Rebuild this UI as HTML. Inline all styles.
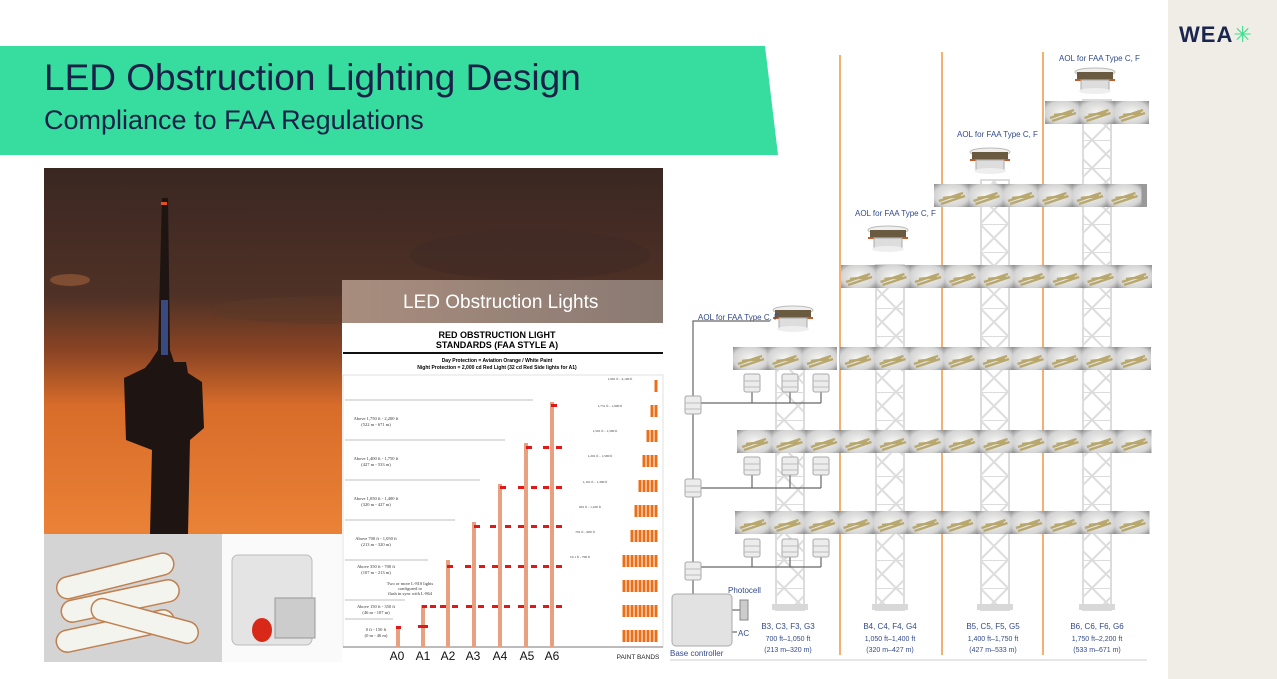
<!DOCTYPE html>
<html><head><meta charset="utf-8"><style>
html,body{margin:0;padding:0}
body{width:1277px;height:679px;position:relative;overflow:hidden;background:#fff;font-family:"Liberation Sans",sans-serif}
.abs{position:absolute}
</style></head><body>
<div class="abs" style="left:1168px;top:0;width:109px;height:679px;background:#f0ece6"></div>
<div class="abs" style="left:1179px;top:22px;font-size:22px;font-weight:bold;color:#1a2550;letter-spacing:1px">WEA<span style="color:#3ee08f;font-weight:normal">✳</span></div>

<svg class="abs" style="left:0;top:0" width="1277" height="679">
<defs>
<linearGradient id="sky" x1="0" y1="0" x2="0" y2="1">
<stop offset="0" stop-color="#3a2722"/><stop offset="0.35" stop-color="#4f3126"/><stop offset="0.5" stop-color="#8a4424"/><stop offset="0.65" stop-color="#d86c2a"/><stop offset="1" stop-color="#ea8236"/></linearGradient>
<linearGradient id="hdr" x1="0" y1="0" x2="1" y2="0"><stop offset="0" stop-color="#a88d7e"/><stop offset="1" stop-color="#8a7a72"/></linearGradient>
<radialGradient id="tileg" cx="0.5" cy="0.5" r="0.7"><stop offset="0" stop-color="#f6f6f4"/><stop offset="0.7" stop-color="#d4d4d4"/><stop offset="1" stop-color="#8c8c8c"/></radialGradient>
<symbol id="t" viewBox="0 0 35 23" width="35" height="23">
<rect width="35" height="23" fill="url(#tileg)"/>
<path d="M5 17 L29 9 M7 20 L31 12 M9 14 L27 12" stroke="#b9a86e" stroke-width="2.4"/>
</symbol>
<pattern id="tile" width="35" height="23" patternUnits="userSpaceOnUse">
<use href="#t"/>
</pattern>
<pattern id="lat" width="28" height="28" patternUnits="userSpaceOnUse">
<path d="M0 0 L28 28 M28 0 L0 28 M0 0 H28" stroke="#dcdcdc" stroke-width="2" fill="none"/></pattern>
<g id="box"><rect x="-8" y="-9" width="16" height="18" rx="2" fill="#ececec" stroke="#aaa"/><line x1="-8" y1="-2" x2="8" y2="-2" stroke="#bbb"/><line x1="-8" y1="4" x2="8" y2="4" stroke="#bbb"/></g>
<g id="aol"><ellipse cx="0" cy="-8" rx="20" ry="4" fill="#eee" stroke="#bbb"/><rect x="-18" y="-8" width="36" height="8" fill="#6a5a40"/><line x1="-20" y1="0" x2="20" y2="0" stroke="#c55a2a" stroke-width="2"/><rect x="-14" y="0" width="28" height="10" fill="#ddd" stroke="#aaa"/><ellipse cx="0" cy="11" rx="16" ry="3" fill="#eee"/></g>
</defs>

<polygon points="0,46 765,46 778,155 0,155" fill="#36dd9e"/>
<text x="44" y="90" font-size="37" fill="#1a2048">LED Obstruction Lighting Design</text>
<text x="44" y="129" font-size="27" fill="#1a2048">Compliance to FAA Regulations</text>

<rect x="44" y="168" width="619" height="366" fill="url(#sky)"/>
<ellipse cx="70" cy="280" rx="20" ry="6" fill="#a0603a" opacity=".6"/>
<ellipse cx="330" cy="310" rx="120" ry="14" fill="#5a3828" opacity=".5"/>
<ellipse cx="530" cy="255" rx="120" ry="25" fill="#3e2a24" opacity=".5"/>
<polygon points="162,198 168,198 170,350 174,362 186,362 188,373 202,382 204,428 190,440 188,534 150,534 152,450 126,440 124,378 145,368 150,362 158,350" fill="#1e1512"/>
<rect x="161" y="300" width="7" height="55" fill="#3a4a80"/>
<rect x="161" y="202" width="6" height="3" fill="#e05020"/>
<rect x="44" y="534" width="178" height="128" fill="#d4d4d4"/>
<g fill="#f4f4ee" stroke="#c08050" stroke-width="1.5">
<rect x="55" y="620" width="120" height="22" rx="11" transform="rotate(-12 115 630)"/>
<rect x="60" y="590" width="120" height="22" rx="11" transform="rotate(-12 120 600)"/>
<rect x="90" y="610" width="110" height="22" rx="11" transform="rotate(15 145 620)"/>
<rect x="55" y="565" width="120" height="22" rx="11" transform="rotate(-14 115 575)"/>
</g>
<rect x="222" y="534" width="120" height="128" fill="#fafafa"/>
<rect x="232" y="555" width="80" height="90" rx="6" fill="#e4e4e4" stroke="#bbb"/>
<rect x="275" y="598" width="40" height="40" fill="#ccc" stroke="#999"/>
<ellipse cx="262" cy="630" rx="10" ry="12" fill="#d82818"/>

<rect x="342" y="280" width="321" height="382" fill="#fff"/>
<rect x="342" y="280" width="321" height="43" fill="url(#hdr)"/>
<text x="403" y="308" font-size="19" fill="#fff">LED Obstruction Lights</text>
<text x="497" y="338" font-size="9" font-weight="bold" text-anchor="middle">RED OBSTRUCTION LIGHT</text>
<text x="497" y="348" font-size="9" font-weight="bold" text-anchor="middle">STANDARDS (FAA STYLE A)</text>
<rect x="343" y="352" width="320" height="2" fill="#111"/>
<text x="497" y="362" font-size="5" font-weight="bold" text-anchor="middle">Day Protection = Aviation Orange / White Paint</text>
<text x="497" y="369" font-size="5" font-weight="bold" text-anchor="middle">Night Protection = 2,000 cd Red Light (32 cd Red Side lights for A1)</text>
<rect x="343" y="375" width="320" height="272" fill="none" stroke="#ccc" stroke-width=".6"/>
<g stroke="#aaa" stroke-width=".7">
<line x1="345" y1="400" x2="533" y2="400"/><line x1="345" y1="440" x2="505" y2="440"/><line x1="345" y1="480" x2="480" y2="480"/><line x1="345" y1="520" x2="455" y2="520"/><line x1="345" y1="560" x2="428" y2="560"/><line x1="345" y1="600" x2="405" y2="600"/><line x1="345" y1="619" x2="393" y2="619"/>
<line x1="343" y1="647" x2="663" y2="647" stroke="#555"/>
</g>
<g font-size="4.5" fill="#333" font-family="Liberation Serif,serif" text-anchor="middle">
<text x="376" y="420">Above 1,750 ft - 2,200 ft</text><text x="376" y="426">(522 m - 671 m)</text>
<text x="376" y="460">Above 1,400 ft - 1,750 ft</text><text x="376" y="466">(427 m - 533 m)</text>
<text x="376" y="500">Above 1,050 ft - 1,400 ft</text><text x="376" y="506">(320 m - 427 m)</text>
<text x="376" y="540">Above 700 ft - 1,050 ft</text><text x="376" y="546">(213 m - 320 m)</text>
<text x="376" y="568">Above 350 ft - 700 ft</text><text x="376" y="574">(107 m - 213 m)</text>
<text x="376" y="608">Above 150 ft - 350 ft</text><text x="376" y="614">(46 m - 107 m)</text>
<text x="376" y="631">0 ft - 150 ft</text><text x="376" y="637">(0 m - 46 m)</text>
<text x="410" y="585">Two or more L-810 lights</text><text x="410" y="590">configured to</text><text x="410" y="595">flash in sync with L-864</text>
</g>
<g fill="#e8a080">
<rect x="396" y="627" width="4" height="20"/><rect x="421" y="605" width="4" height="42"/><rect x="446" y="560" width="4" height="87"/><rect x="472" y="522" width="4" height="125"/><rect x="498" y="484" width="4" height="163"/><rect x="524" y="443" width="4" height="204"/><rect x="550" y="402" width="4" height="245"/>
</g>
<g fill="#e01818">
<rect x="396" y="626" width="5" height="3"/><rect x="418" y="625" width="10" height="3"/>
<rect x="422" y="605" width="5" height="3"/><rect x="430" y="605" width="6" height="3"/><rect x="440" y="605" width="6" height="3"/><rect x="452" y="605" width="6" height="3"/><rect x="466" y="605" width="6" height="3"/><rect x="478" y="605" width="6" height="3"/><rect x="492" y="605" width="6" height="3"/><rect x="504" y="605" width="6" height="3"/><rect x="518" y="605" width="6" height="3"/><rect x="530" y="605" width="6" height="3"/><rect x="543" y="605" width="6" height="3"/><rect x="556" y="605" width="6" height="3"/>
<rect x="447" y="565" width="6" height="3"/><rect x="465" y="565" width="6" height="3"/><rect x="479" y="565" width="6" height="3"/><rect x="492" y="565" width="6" height="3"/><rect x="505" y="565" width="6" height="3"/><rect x="518" y="565" width="6" height="3"/><rect x="531" y="565" width="6" height="3"/><rect x="543" y="565" width="6" height="3"/><rect x="556" y="565" width="6" height="3"/>
<rect x="474" y="525" width="6" height="3"/><rect x="490" y="525" width="6" height="3"/><rect x="505" y="525" width="6" height="3"/><rect x="518" y="525" width="6" height="3"/><rect x="531" y="525" width="6" height="3"/><rect x="543" y="525" width="6" height="3"/><rect x="556" y="525" width="6" height="3"/>
<rect x="500" y="486" width="6" height="3"/><rect x="518" y="486" width="6" height="3"/><rect x="531" y="486" width="6" height="3"/><rect x="543" y="486" width="6" height="3"/><rect x="556" y="486" width="6" height="3"/>
<rect x="526" y="446" width="6" height="3"/><rect x="543" y="446" width="6" height="3"/><rect x="556" y="446" width="6" height="3"/>
<rect x="551" y="404" width="6" height="3"/>
</g>
<g fill="none" stroke="#e8701a" stroke-width="3" stroke-dasharray="12 13">
<path d="M656 380 V647"/><path d="M652 405 V647"/><path d="M648 430 V647"/><path d="M644 455 V647"/><path d="M640 480 V647"/><path d="M636 505 V647"/><path d="M632 530 V647"/><path d="M628 555 V647"/><path d="M624 555 V647"/>
</g>
<g font-size="3.5" fill="#333" text-anchor="middle" font-family="Liberation Serif,serif">
<text x="620" y="380">1,901 ft - 2,100 ft</text><text x="610" y="407">1,751 ft - 1,900 ft</text><text x="605" y="432">1,501 ft - 1,500 ft</text><text x="600" y="457">1,201 ft - 1,500 ft</text><text x="595" y="483">1,101 ft - 1,300 ft</text><text x="590" y="508">901 ft - 1,100 ft</text><text x="585" y="533">701 ft - 900 ft</text><text x="580" y="558">10.1 ft - 700 ft</text>
</g>
<g font-size="12" fill="#111" text-anchor="middle">
<text x="397" y="660">A0</text><text x="423" y="660">A1</text><text x="448" y="660">A2</text><text x="473" y="660">A3</text><text x="500" y="660">A4</text><text x="527" y="660">A5</text><text x="552" y="660">A6</text>
</g>
<text x="638" y="659" font-size="6.5" text-anchor="middle" fill="#222">PAINT BANDS</text>

<g>
<rect x="776" y="350" width="28" height="260" fill="url(#lat)" stroke="#dcdcdc" stroke-width="2"/>
<rect x="876" y="265" width="28" height="345" fill="url(#lat)" stroke="#dcdcdc" stroke-width="2"/>
<rect x="981" y="180" width="28" height="430" fill="url(#lat)" stroke="#dcdcdc" stroke-width="2"/>
<rect x="1083" y="100" width="28" height="510" fill="url(#lat)" stroke="#dcdcdc" stroke-width="2"/>
<g fill="#d8d8d8"><rect x="772" y="604" width="36" height="6"/><rect x="872" y="604" width="36" height="6"/><rect x="977" y="604" width="36" height="6"/><rect x="1079" y="604" width="36" height="6"/></g>
</g>
<g stroke="#f4b070" stroke-width="2"><line x1="840" y1="55" x2="840" y2="655"/><line x1="942" y1="52" x2="942" y2="655"/><line x1="1043" y1="52" x2="1043" y2="655"/></g>
<g>
<rect x="1045" y="101" width="102" height="23" fill="#999"/>
<rect x="934" y="184" width="213" height="23" fill="#999"/>
<rect x="841" y="265" width="306" height="23" fill="#999"/>
<rect x="733" y="347" width="103" height="23" fill="#999"/><rect x="840" y="347" width="307" height="23" fill="#999"/>
<rect x="737" y="430" width="410" height="22" fill="#999"/>
<rect x="735" y="511" width="412" height="23" fill="#999"/>
</g>
<g id="tiles"></g>
<use href="#aol" x="1095" y="80"/><use href="#aol" x="990" y="160"/><use href="#aol" x="888" y="238"/><use href="#aol" x="793" y="318"/>
<g font-size="8" fill="#334a8a">
<text x="1059" y="61">AOL for FAA Type C, F</text><text x="957" y="137">AOL for FAA Type C, F</text><text x="855" y="216">AOL for FAA Type C, F</text><text x="698" y="320">AOL for FAA Type C, F</text>
</g>
<g stroke="#666" stroke-width="1.2" fill="none">
<polyline points="770,321 693,321 693,598"/>
<polyline points="693,403 821,403"/><line x1="752" y1="383" x2="752" y2="403"/><line x1="790" y1="383" x2="790" y2="403"/><line x1="821" y1="383" x2="821" y2="403"/>
<polyline points="693,488 821,488"/><line x1="752" y1="468" x2="752" y2="488"/><line x1="790" y1="468" x2="790" y2="488"/><line x1="821" y1="468" x2="821" y2="488"/>
<polyline points="693,567 821,567"/><line x1="752" y1="550" x2="752" y2="567"/><line x1="790" y1="550" x2="790" y2="567"/><line x1="821" y1="550" x2="821" y2="567"/>
<line x1="732" y1="610" x2="740" y2="610"/><line x1="732" y1="632" x2="737" y2="632"/>
</g>
<use href="#box" x="752" y="383"/><use href="#box" x="790" y="383"/><use href="#box" x="821" y="383"/>
<use href="#box" x="752" y="466"/><use href="#box" x="790" y="466"/><use href="#box" x="821" y="466"/>
<use href="#box" x="752" y="548"/><use href="#box" x="790" y="548"/><use href="#box" x="821" y="548"/>
<use href="#box" x="693" y="405"/><use href="#box" x="693" y="488"/><use href="#box" x="693" y="571"/>
<rect x="672" y="594" width="60" height="52" rx="4" fill="#e2e2e2" stroke="#aaa"/>
<rect x="740" y="600" width="8" height="20" fill="#ccc" stroke="#888"/>
<g font-size="8" fill="#334a8a">
<text x="728" y="593">Photocell</text><text x="738" y="636">AC</text><text x="670" y="656">Base controller</text>
</g>
<g font-size="8" fill="#334a8a" text-anchor="middle">
<text x="788" y="629">B3, C3, F3, G3</text><text x="788" y="641" font-size="7">700 ft–1,050 ft</text><text x="788" y="652" font-size="7">(213 m–320 m)</text>
<text x="890" y="629">B4, C4, F4, G4</text><text x="890" y="641" font-size="7">1,050 ft–1,400 ft</text><text x="890" y="652" font-size="7">(320 m–427 m)</text>
<text x="993" y="629">B5, C5, F5, G5</text><text x="993" y="641" font-size="7">1,400 ft–1,750 ft</text><text x="993" y="652" font-size="7">(427 m–533 m)</text>
<text x="1097" y="629">B6, C6, F6, G6</text><text x="1097" y="641" font-size="7">1,750 ft–2,200 ft</text><text x="1097" y="652" font-size="7">(533 m–671 m)</text>
</g>
<line x1="670" y1="660" x2="1147" y2="660" stroke="#ccc"/>
</svg>
<script>
var g=document.getElementById('tiles');
var rows=[[1045,101,3],[934,184,6],[841,265,9],[733,347,3],[840,347,9],[737,430,12],[735,511,12]];
var ns='http://www.w3.org/2000/svg',h='';
rows.forEach(function(r){for(var i=0;i<r[2];i++){h+='<use href="#t" x="'+(r[0]+i*34.5)+'" y="'+r[1]+'"/>';}});
g.innerHTML=h;
</script>
</body></html>
